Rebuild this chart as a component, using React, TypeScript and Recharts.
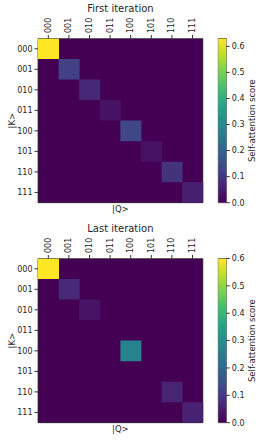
import React from "react";
import { Bar, BarChart, Cell, ReferenceArea, XAxis, YAxis } from "recharts";

const qLabels = ["000", "001", "010", "011", "100", "101", "110", "111"];
const kLabels = ["000", "001", "010", "011", "100", "101", "110", "111"];

// self-attention scores, rows = |K>, columns = |Q>
const firstScores = [
  [0.63, 0, 0, 0, 0, 0, 0, 0],
  [0, 0.12, 0, 0, 0, 0, 0, 0],
  [0, 0, 0.07, 0, 0, 0, 0, 0],
  [0, 0, 0, 0.03, 0, 0, 0, 0],
  [0, 0, 0, 0, 0.13, 0, 0, 0],
  [0, 0, 0, 0, 0, 0.028, 0, 0],
  [0, 0, 0, 0, 0, 0, 0.09, 0],
  [0, 0, 0, 0, 0, 0, 0, 0.055]
];
const lastScores = [
  [0.6, 0, 0, 0, 0, 0, 0, 0],
  [0, 0.07, 0, 0, 0, 0, 0, 0],
  [0, 0, 0.03, 0, 0, 0, 0, 0],
  [0, 0, 0, 0, 0, 0, 0, 0],
  [0, 0, 0, 0, 0.265, 0, 0, 0],
  [0, 0, 0, 0, 0, 0, 0, 0],
  [0, 0, 0, 0, 0, 0, 0.06, 0],
  [0, 0, 0, 0, 0, 0, 0, 0.055]
];
const firstMax = 0.63;
const lastMax = 0.6;
const colorbarTicks = [0, 0.1, 0.2, 0.3, 0.4, 0.5, 0.6];

const VIRIDIS = [
  "#440154", "#482475", "#414487", "#355f8d", "#2a788e", "#21918c",
  "#22a884", "#44bf70", "#7ad151", "#bddf26", "#fde725"
];

function hexToRgb(h: string) {
  return [1, 3, 5].map((i) => parseInt(h.slice(i, i + 2), 16));
}

function viridis(t: number) {
  const v = Math.max(0, Math.min(1, t)) * (VIRIDIS.length - 1);
  const i = Math.min(Math.floor(v), VIRIDIS.length - 2);
  const f = v - i;
  const a = hexToRgb(VIRIDIS[i]);
  const b = hexToRgb(VIRIDIS[i + 1]);
  const c = a.map((x, j) => Math.round(x + (b[j] - x) * f));
  return `rgb(${c[0]},${c[1]},${c[2]})`;
}

const FONT = "'DejaVu Sans', sans-serif";
const TEXT = "#262626";
const LINE = "#333";

// heatmap plot box
const PLOT_LEFT = 38;
const PLOT_TOP = 38.5;
const PLOT_W = 164.8;
const PLOT_H = 164.2;

const gridData = qLabels.map((q) => {
  const row: Record<string, number | string> = { q };
  kLabels.forEach((_, k) => (row["k" + k] = 1));
  return row;
});

function TopTick(props: any) {
  const { x, y, payload } = props;
  return (
    <text
      x={x}
      y={y}
      transform={`rotate(-90 ${x} ${y})`}
      textAnchor="start"
      dominantBaseline="central"
      fontSize={8}
      fontFamily={FONT}
      fill={TEXT}
    >
      {payload.value}
    </text>
  );
}

function Panel({ title, scores, vmax, top }: { title: string; scores: number[][]; vmax: number; top: number }) {
  const labelStyle = { fontSize: 8.5, fontFamily: FONT, fill: TEXT };
  return (
    <div style={{ position: "absolute", left: 0, top, width: 261, height: 220 }}>
      <div
        style={{
          position: "absolute",
          left: PLOT_LEFT,
          width: PLOT_W,
          top: 3,
          textAlign: "center",
          fontSize: 10,
          fontFamily: FONT,
          color: TEXT
        }}
      >
        {title}
      </div>
      {/* colormap minimum behind the grid */}
      <div
        style={{
          position: "absolute",
          left: PLOT_LEFT,
          top: PLOT_TOP,
          width: PLOT_W,
          height: PLOT_H,
          background: VIRIDIS[0]
        }}
      />
      <div style={{ position: "absolute", left: 0, top: 0 }}>
        <BarChart
          width={PLOT_LEFT + PLOT_W + 3.2}
          height={220}
          data={gridData}
          margin={{ top: 8, right: 3.2, bottom: 220 - PLOT_TOP - PLOT_H - 15, left: 0 }}
          barCategoryGap={0}
        >
          <XAxis
            dataKey="q"
            orientation="top"
            height={PLOT_TOP - 8}
            tick={<TopTick />}
            tickSize={3.5}
            tickMargin={2}
            tickLine={{ stroke: LINE }}
            axisLine={false}
            interval={0}
          />
          <XAxis
            xAxisId="bottom"
            dataKey="q"
            orientation="bottom"
            height={15}
            tick={false}
            tickLine={false}
            axisLine={false}
            label={{ value: "|Q>", position: "center", dy: -1, style: labelStyle }}
          />
          <YAxis
            type="number"
            domain={[0, 8]}
            reversed
            ticks={[0.5, 1.5, 2.5, 3.5, 4.5, 5.5, 6.5, 7.5]}
            tickFormatter={(v) => kLabels[Math.floor(v)]}
            width={PLOT_LEFT}
            tickSize={3.5}
            tickMargin={2}
            tick={{ fontSize: 8, fontFamily: FONT, fill: TEXT }}
            tickLine={{ stroke: LINE }}
            axisLine={false}
            interval={0}
            allowDataOverflow
            label={{ value: "|K>", angle: -90, position: "center", dx: -7, style: labelStyle }}
          />
          {kLabels.map((_, k) => (
            <Bar key={k} dataKey={"k" + k} stackId="cells" isAnimationActive={false}>
              {qLabels.map((__, q) => {
                const s = scores[k][q];
                // zero cells already show the colormap minimum from the backdrop
                const c = s > 0 ? viridis(s / vmax) : "transparent";
                return <Cell key={q} fill={c} stroke="none" />;
              })}
            </Bar>
          ))}
          <ReferenceArea y1={0} y2={8} fill="none" stroke={LINE} strokeWidth={0.8} />
        </BarChart>
      </div>
      <div style={{ position: "absolute", left: 180, top: 0 }}>
        <BarChart
          width={81}
          height={220}
          data={[{ name: "cb", v: vmax }]}
          margin={{ top: PLOT_TOP, right: 0, bottom: 220 - PLOT_TOP - PLOT_H, left: 38.3 }}
          barCategoryGap={0}
        >
          <XAxis dataKey="name" hide />
          <YAxis
            orientation="right"
            type="number"
            domain={[0, vmax]}
            ticks={colorbarTicks}
            tickFormatter={(v) => v.toFixed(1)}
            width={34.7}
            tickSize={3.5}
            tickMargin={2}
            tick={{ fontSize: 8, fontFamily: FONT, fill: TEXT }}
            tickLine={{ stroke: LINE }}
            axisLine={false}
            interval={0}
            allowDataOverflow
            label={{ value: "Self-attention score", angle: -90, position: "center", dx: 8.5, style: labelStyle }}
          />
          <Bar dataKey="v" fill="url(#viridisGrad)" isAnimationActive={false} />
          <ReferenceArea y1={0} y2={vmax} fill="none" stroke={LINE} strokeWidth={0.8} />
        </BarChart>
      </div>
    </div>
  );
}

export default function App() {
  return (
    <div style={{ position: "absolute", left: 0, top: 0, width: 261, height: 441, background: "#fff" }}>
      <svg width={0} height={0} style={{ position: "absolute" }}>
        <defs>
          <linearGradient id="viridisGrad" x1="0" y1="1" x2="0" y2="0">
            {VIRIDIS.map((c, i) => (
              <stop key={i} offset={i / (VIRIDIS.length - 1)} stopColor={c} />
            ))}
          </linearGradient>
        </defs>
      </svg>
      <Panel title="First iteration" scores={firstScores} vmax={firstMax} top={0} />
      <Panel title="Last iteration" scores={lastScores} vmax={lastMax} top={220} />
    </div>
  );
}
